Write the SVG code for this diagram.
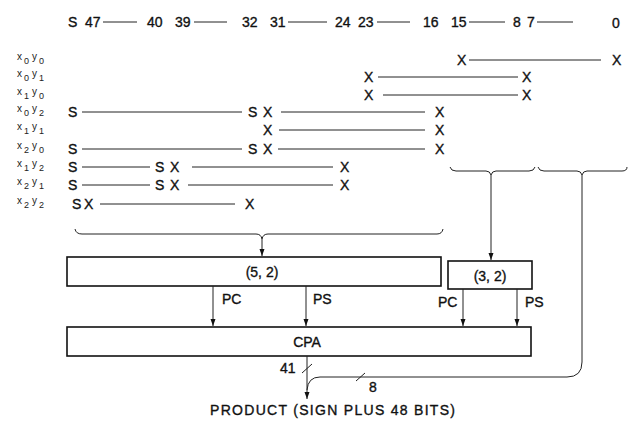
<svg xmlns="http://www.w3.org/2000/svg" width="639" height="424" viewBox="0 0 639 424">
<style>
  .t { font-family: "Liberation Sans", Arial, sans-serif; font-size: 14px; fill: #111; stroke: #111; stroke-width: 0.35; }
  .lbl { font-family: "Liberation Sans", Arial, sans-serif; font-size: 10px; fill: #222; }
  .sub { font-size: 9px; }
  .ln { stroke: #222; stroke-width: 1; fill: none; }
  .box { stroke: #111; stroke-width: 1.6; fill: #fff; }
</style>
<defs>
  <marker id="ah" markerWidth="8" markerHeight="8" refX="7" refY="4" orient="auto" markerUnits="userSpaceOnUse">
    <path d="M0,1.5 L7,4 L0,6.5 Z" fill="#111"/>
  </marker>
</defs>
<rect width="639" height="424" fill="#fff"/>

<!-- header bit positions -->
<g id="header">
  <text class="t" x="68" y="27">S</text>
  <text class="t" x="85" y="27">47</text>
  <line class="ln" x1="103" y1="22" x2="137" y2="22"/>
  <text class="t" x="147" y="27">40</text>
  <text class="t" x="175" y="27">39</text>
  <line class="ln" x1="194" y1="22" x2="227" y2="22"/>
  <text class="t" x="242" y="27">32</text>
  <text class="t" x="270" y="27">31</text>
  <line class="ln" x1="288" y1="22" x2="327" y2="22"/>
  <text class="t" x="335" y="27">24</text>
  <text class="t" x="358" y="27">23</text>
  <line class="ln" x1="377" y1="22" x2="410" y2="22"/>
  <text class="t" x="423" y="27">16</text>
  <text class="t" x="451" y="27">15</text>
  <line class="ln" x1="469" y1="22" x2="505" y2="22"/>
  <text class="t" x="513" y="27">8</text>
  <text class="t" x="527" y="27">7</text>
  <line class="ln" x1="537" y1="22" x2="573" y2="22"/>
  <text class="t" x="612" y="28">0</text>
</g>

<!-- row labels -->
<g id="labels">
  <text class="lbl" y="60"><tspan x="17">x</tspan><tspan class="sub" x="24" dy="4">0</tspan><tspan x="32" dy="-4">y</tspan><tspan class="sub" x="39" dy="4">0</tspan></text>
  <text class="lbl" y="77"><tspan x="17">x</tspan><tspan class="sub" x="24" dy="4">0</tspan><tspan x="32" dy="-4">y</tspan><tspan class="sub" x="39" dy="4">1</tspan></text>
  <text class="lbl" y="95"><tspan x="17">x</tspan><tspan class="sub" x="24" dy="4">1</tspan><tspan x="32" dy="-4">y</tspan><tspan class="sub" x="39" dy="4">0</tspan></text>
  <text class="lbl" y="112"><tspan x="17">x</tspan><tspan class="sub" x="24" dy="4">0</tspan><tspan x="32" dy="-4">y</tspan><tspan class="sub" x="39" dy="4">2</tspan></text>
  <text class="lbl" y="130"><tspan x="17">x</tspan><tspan class="sub" x="24" dy="4">1</tspan><tspan x="32" dy="-4">y</tspan><tspan class="sub" x="39" dy="4">1</tspan></text>
  <text class="lbl" y="149"><tspan x="17">x</tspan><tspan class="sub" x="24" dy="4">2</tspan><tspan x="32" dy="-4">y</tspan><tspan class="sub" x="39" dy="4">0</tspan></text>
  <text class="lbl" y="167"><tspan x="17">x</tspan><tspan class="sub" x="24" dy="4">1</tspan><tspan x="32" dy="-4">y</tspan><tspan class="sub" x="39" dy="4">2</tspan></text>
  <text class="lbl" y="185"><tspan x="17">x</tspan><tspan class="sub" x="24" dy="4">2</tspan><tspan x="32" dy="-4">y</tspan><tspan class="sub" x="39" dy="4">1</tspan></text>
  <text class="lbl" y="204"><tspan x="17">x</tspan><tspan class="sub" x="24" dy="4">2</tspan><tspan x="32" dy="-4">y</tspan><tspan class="sub" x="39" dy="4">2</tspan></text>
</g>

<!-- partial product rows -->
<g id="row-x0y0">
  <text class="t" x="457" y="65">X</text>
  <line class="ln" x1="469" y1="60" x2="601" y2="60"/>
  <text class="t" x="612" y="65">X</text>
</g>
<g id="row-x0y1">
  <text class="t" x="364" y="82">X</text>
  <line class="ln" x1="378" y1="77" x2="518" y2="77"/>
  <text class="t" x="522" y="82">X</text>
</g>
<g id="row-x1y0">
  <text class="t" x="364" y="100">X</text>
  <line class="ln" x1="383" y1="95" x2="518" y2="95"/>
  <text class="t" x="522" y="100">X</text>
</g>
<g id="row-x0y2">
  <text class="t" x="68" y="117">S</text>
  <line class="ln" x1="82" y1="112" x2="242" y2="112"/>
  <text class="t" x="248" y="117">S</text>
  <text class="t" x="263" y="117">X</text>
  <line class="ln" x1="281" y1="112" x2="425" y2="112"/>
  <text class="t" x="435" y="117">X</text>
</g>
<g id="row-x1y1">
  <text class="t" x="263" y="135">X</text>
  <line class="ln" x1="279" y1="130" x2="425" y2="130"/>
  <text class="t" x="435" y="135">X</text>
</g>
<g id="row-x2y0">
  <text class="t" x="68" y="154">S</text>
  <line class="ln" x1="82" y1="149" x2="242" y2="149"/>
  <text class="t" x="248" y="154">S</text>
  <text class="t" x="263" y="154">X</text>
  <line class="ln" x1="278" y1="149" x2="425" y2="149"/>
  <text class="t" x="435" y="154">X</text>
</g>
<g id="row-x1y2">
  <text class="t" x="68" y="172">S</text>
  <line class="ln" x1="82" y1="167" x2="150" y2="167"/>
  <text class="t" x="155" y="172">S</text>
  <text class="t" x="170" y="172">X</text>
  <line class="ln" x1="192" y1="167" x2="333" y2="167"/>
  <text class="t" x="340" y="172">X</text>
</g>
<g id="row-x2y1">
  <text class="t" x="68" y="190">S</text>
  <line class="ln" x1="82" y1="185" x2="150" y2="185"/>
  <text class="t" x="155" y="190">S</text>
  <text class="t" x="170" y="190">X</text>
  <line class="ln" x1="188" y1="185" x2="333" y2="185"/>
  <text class="t" x="340" y="190">X</text>
</g>
<g id="row-x2y2">
  <text class="t" x="72" y="209">S</text>
  <text class="t" x="84" y="209">X</text>
  <line class="ln" x1="100" y1="204" x2="235" y2="204"/>
  <text class="t" x="245" y="209">X</text>
</g>

<!-- boxes -->
<g id="adder52">
  <rect class="box" x="67" y="257" width="374" height="29"/>
  <text class="t" x="262" y="277" text-anchor="middle" font-size="13">(5, 2)</text>
</g>
<g id="adder32">
  <rect class="box" x="448" y="261" width="84" height="28"/>
  <text class="t" x="490" y="281" text-anchor="middle" font-size="13">(3, 2)</text>
</g>
<g id="cpa">
  <rect class="box" x="67" y="327" width="464" height="29"/>
  <text class="t" x="307" y="347" text-anchor="middle" font-size="13">CPA</text>
</g>

<!-- connectors -->
<g id="connectors">
  <path class="ln" d="M75,229 Q76,234 82,234 L256,234 Q261,234 262,239 Q263,234 268,234 L437,234 Q442,234 443,229"/>
  <path class="ln" d="M450,167 Q451,171 456,171 L486,171 Q490,171 491,175 Q492,171 496,171 L529,171 Q534,171 535,167"/>
  <path class="ln" d="M538,167 Q539,171 544,171 L577,171 Q581,171 582,175 Q583,171 587,171 L622,171 Q627,171 627,167"/>
  <line class="ln" x1="262" y1="239" x2="262" y2="256" marker-end="url(#ah)"/>
  <line class="ln" x1="491" y1="175" x2="491" y2="260" marker-end="url(#ah)"/>
  <path class="ln" d="M582,175 V362 Q582,377 567,377 H320 Q308,377 307,390"/>
  <line class="ln" x1="213" y1="286" x2="213" y2="326" marker-end="url(#ah)"/>
  <line class="ln" x1="306" y1="286" x2="306" y2="326" marker-end="url(#ah)"/>
  <line class="ln" x1="463" y1="289" x2="463" y2="326" marker-end="url(#ah)"/>
  <line class="ln" x1="517" y1="289" x2="517" y2="326" marker-end="url(#ah)"/>
  <line class="ln" x1="307" y1="356" x2="307" y2="399" marker-end="url(#ah)"/>
  <line class="ln" x1="302" y1="373" x2="312" y2="364"/>
  <line class="ln" x1="356" y1="381" x2="365" y2="373"/>
  <text class="t" x="222" y="304" font-size="13">PC</text>
  <text class="t" x="313" y="304" font-size="13">PS</text>
  <text class="t" x="438" y="307" font-size="13">PC</text>
  <text class="t" x="525" y="307" font-size="13">PS</text>
  <text class="t" x="280" y="373" font-size="13">41</text>
  <text class="t" x="369" y="392" font-size="13">8</text>
</g>

<text class="t" x="210" y="415" textLength="245" lengthAdjust="spacing">PRODUCT (SIGN PLUS 48 BITS)</text>
</svg>
